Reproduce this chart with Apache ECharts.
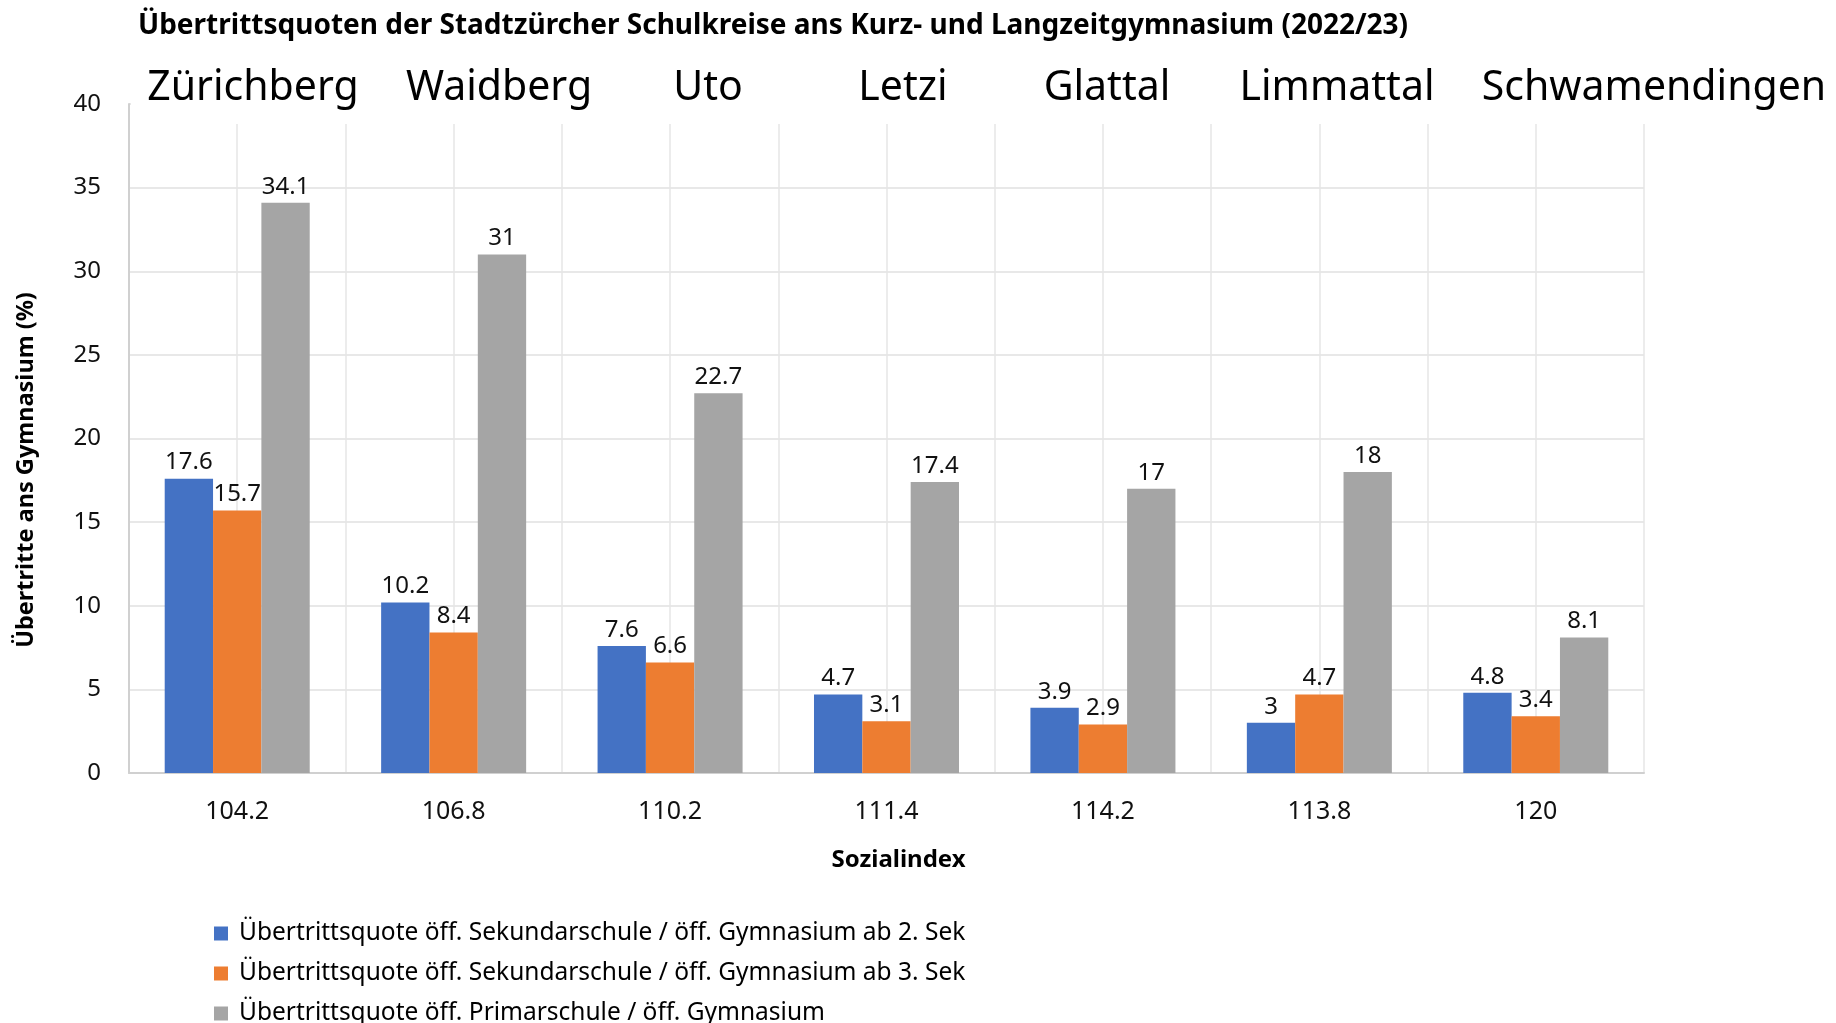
<!DOCTYPE html>
<html>
<head>
<meta charset="utf-8">
<script src="https://cdn.jsdelivr.net/npm/echarts@6/dist/echarts.min.js"></script>
<style>html,body{margin:0;padding:0;background:#fff}#c{width:1836px;height:1023px}</style>
</head>
<body>
<div id="c"></div>
<script>
const categories = ['104.2', '106.8', '110.2', '111.4', '114.2', '113.8', '120'];
const districts = ['Zürichberg', 'Waidberg', 'Uto', 'Letzi', 'Glattal', 'Limmattal', 'Schwamendingen'];
const seriesNames = [
  'Übertrittsquote öff. Sekundarschule / öff. Gymnasium ab 2. Sek',
  'Übertrittsquote öff. Sekundarschule / öff. Gymnasium ab 3. Sek',
  'Übertrittsquote öff. Primarschule / öff. Gymnasium'
];
const sek2 = [17.6, 10.2, 7.6, 4.7, 3.9, 3, 4.8];
const sek3 = [15.7, 8.4, 6.6, 3.1, 2.9, 4.7, 3.4];
const prim = [34.1, 31, 22.7, 17.4, 17, 18, 8.1];
const yTicks = [0, 5, 10, 15, 20, 25, 30, 35, 40];

const titleText = 'Übertrittsquoten der Stadtzürcher Schulkreise ans Kurz- und Langzeitgymnasium (2022/23)';
const yName = 'Übertritte ans Gymnasium (%)';
const xName = 'Sozialindex';

// layout of the district text boxes
const districtX = [253, 499, 708, 903, 1107, 1337, 1654];

const colors = ['#4472C4', '#ED7D31', '#A5A5A5'];
const FONT = '"Noto Sans", sans-serif';

const chart = echarts.init(document.getElementById('c'), null, {renderer: 'canvas'});

const labelCfg = {show: true, position: 'top', distance: 4, color: '#111', fontSize: 24, fontFamily: FONT};

const graphics = [
  {type: 'rect', z: 100, shape: {x: 131, y: 55, width: 1700, height: 69}, style: {fill: '#fff'}}
];
districts.forEach((d, i) => {
  graphics.push({type: 'text', z: 101, x: districtX[i], y: 88,
    style: {text: d, fontSize: 41, fontFamily: FONT, fill: '#000', align: 'center', verticalAlign: 'middle'}});
});
graphics.push({type: 'text', z: 101, x: 26, y: 470, rotation: Math.PI / 2,
  style: {text: yName, fontSize: 23.5, fontWeight: 'bold', fontFamily: FONT, fill: '#000', align: 'center', verticalAlign: 'middle'}});

chart.setOption({
  animation: false,
  color: colors,
  title: {
    text: titleText, left: 138, top: 12, padding: 0,
    textStyle: {fontSize: 28, fontWeight: 'bold', fontFamily: FONT, color: '#000'}
  },
  legend: {
    orient: 'vertical', left: 214, top: 921, height: 160, itemGap: 15, padding: 0,
    itemWidth: 14, itemHeight: 14, icon: 'rect',
    textStyle: {fontSize: 24.5, fontFamily: FONT, color: '#000', lineHeight: 24, padding: [0, 0, 0, 6]},
    data: seriesNames
  },
  grid: {left: 129, right: 192, top: 104, bottom: 250, containLabel: false},
  xAxis: [
    {
      type: 'category', data: categories,
      name: xName, nameLocation: 'middle', nameGap: 75,
      nameTextStyle: {fontSize: 24, fontWeight: 'bold', fontFamily: FONT, color: '#000', padding: [0, 0, 0, 24]},
      axisLine: {lineStyle: {color: '#d0d0d0', width: 2}},
      axisTick: {show: false},
      axisLabel: {fontSize: 25, fontFamily: FONT, color: '#111', margin: 26},
      splitLine: {show: false}
    },
    {
      type: 'value', min: 0, max: 14, interval: 1, show: true,
      position: 'bottom',
      axisLine: {show: false}, axisTick: {show: false}, axisLabel: {show: false},
      splitLine: {show: true, lineStyle: {color: '#e6e6e6', width: 1.5}}
    }
  ],
  yAxis: {
    type: 'value', min: 0, max: 40, interval: 5,
    axisLine: {show: true, lineStyle: {color: '#d0d0d0', width: 2}},
    axisTick: {show: false},
    axisLabel: {fontSize: 24, fontFamily: FONT, color: '#111', margin: 28,
      formatter: v => yTicks.includes(v) ? String(v) : ''},
    splitLine: {show: true, lineStyle: {color: '#e0e0e0', width: 1.5}}
  },
  graphic: graphics,
  series: [
    {name: seriesNames[0], type: 'bar', data: sek2, barGap: '0%', barCategoryGap: '33%', label: labelCfg, xAxisIndex: 0},
    {name: seriesNames[1], type: 'bar', data: sek3, barGap: '0%', barCategoryGap: '33%', label: labelCfg, xAxisIndex: 0},
    {name: seriesNames[2], type: 'bar', data: prim, barGap: '0%', barCategoryGap: '33%', label: labelCfg, xAxisIndex: 0}
  ]
});
</script>
</body>
</html>
